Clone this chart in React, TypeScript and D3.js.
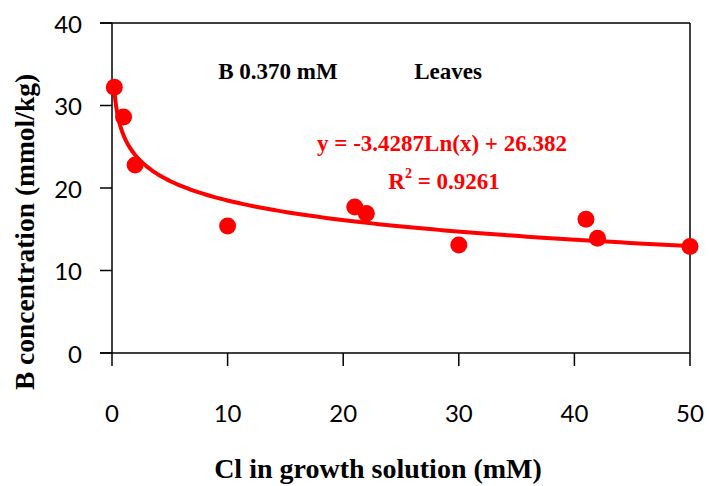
import React from "react";
import * as d3 from "d3";

const xValues = [0.2, 1, 2, 10, 21, 22, 30, 41, 42, 50];
const yValues = [32.2, 28.6, 22.8, 15.4, 17.7, 16.9, 13.1, 16.2, 13.9, 12.9];
const xTicks = [0, 10, 20, 30, 40, 50];
const yTicks = [0, 10, 20, 30, 40];
const fitSlope = -3.4287;
const fitIntercept = 26.382;

const W = 709;
const H = 486;
const left = 112;
const right = 690;
const top = 23;
const bottom = 353;

export default function App() {
  const x = d3.scaleLinear().domain([0, 50]).range([left, right]);
  const y = d3.scaleLinear().domain([0, 40]).range([bottom, top]);
  const xmin = d3.min(xValues) as number;
  const xmax = d3.max(xValues) as number;
  const samples = d3.range(0, 301).map((i) => {
    const t = i / 300;
    const xv = Math.exp(Math.log(xmin) + t * (Math.log(xmax) - Math.log(xmin)));
    return [xv, fitSlope * Math.log(xv) + fitIntercept] as [number, number];
  });
  const line = d3
    .line<[number, number]>()
    .x((d) => x(d[0]))
    .y((d) => y(d[1]))
    .curve(d3.curveLinear);
  const tickFont = "Lato, 'Open Sans', sans-serif";
  const serif = "'Liberation Serif', 'Times New Roman', serif";
  return (
    <svg
      width={W}
      height={H}
      style={{ position: "absolute", left: 0, top: 0, background: "#fff" }}
    >
      <rect x={0} y={0} width={W} height={H} fill="#fff" />
      {/* frame */}
      <line x1={left - 12} x2={right} y1={top} y2={top} stroke="#000" strokeWidth={1.5} />
      <line x1={right} x2={right} y1={top} y2={bottom} stroke="#000" strokeWidth={1.5} />
      <line x1={left} x2={left} y1={top} y2={bottom} stroke="#000" strokeWidth={1.5} />
      <line x1={left - 12} x2={right} y1={bottom} y2={bottom} stroke="#000" strokeWidth={1.5} />
      {yTicks.map((t) => (
        <g key={"y" + t}>
          <line x1={left - 12} x2={left} y1={y(t)} y2={y(t)} stroke="#000" strokeWidth={1.5} />
          <text
            x={82}
            y={y(t)}
            textAnchor="end"
            dominantBaseline="central"
            fontFamily={tickFont}
            fontSize={24}
            fill="#000"
          >
            {t}
          </text>
        </g>
      ))}
      {xTicks.map((t) => (
        <g key={"x" + t}>
          <line x1={x(t)} x2={x(t)} y1={bottom} y2={bottom + 13} stroke="#000" strokeWidth={1.5} />
          <text
            x={x(t)}
            y={412}
            textAnchor="middle"
            dominantBaseline="central"
            fontFamily={tickFont}
            fontSize={24}
            fill="#000"
          >
            {t}
          </text>
        </g>
      ))}
      <path d={line(samples) || ""} fill="none" stroke="#FF0000" strokeWidth={4} />
      {xValues.map((xv, i) => (
        <circle key={i} cx={x(xv)} cy={y(yValues[i])} r={8.5} fill="#FF0000" />
      ))}
      <text x={278} y={71} textAnchor="middle" dominantBaseline="central" fontFamily={serif} fontWeight="bold" fontSize={23} fill="#000">
        B 0.370 mM
      </text>
      <text x={448} y={71} textAnchor="middle" dominantBaseline="central" fontFamily={serif} fontWeight="bold" fontSize={23} fill="#000">
        Leaves
      </text>
      <text x={442} y={143} textAnchor="middle" dominantBaseline="central" fontFamily={serif} fontWeight="bold" fontSize={23} fill="#FF0000">
        y = -3.4287Ln(x) + 26.382
      </text>
      <text x={444} y={181} textAnchor="middle" dominantBaseline="central" fontFamily={serif} fontWeight="bold" fontSize={23} fill="#FF0000">
        R<tspan baselineShift="super" fontSize={14}>2</tspan> = 0.9261
      </text>
      <text
        transform={`translate(24, 232) rotate(-90)`}
        textAnchor="middle"
        dominantBaseline="central"
        fontFamily={serif}
        fontWeight="bold"
        fontSize={27.5}
        fill="#000"
      >
        B concentration (mmol/kg)
      </text>
      <text x={378} y={468} textAnchor="middle" dominantBaseline="central" fontFamily={serif} fontWeight="bold" fontSize={28} fill="#000">
        Cl in growth solution (mM)
      </text>
    </svg>
  );
}
